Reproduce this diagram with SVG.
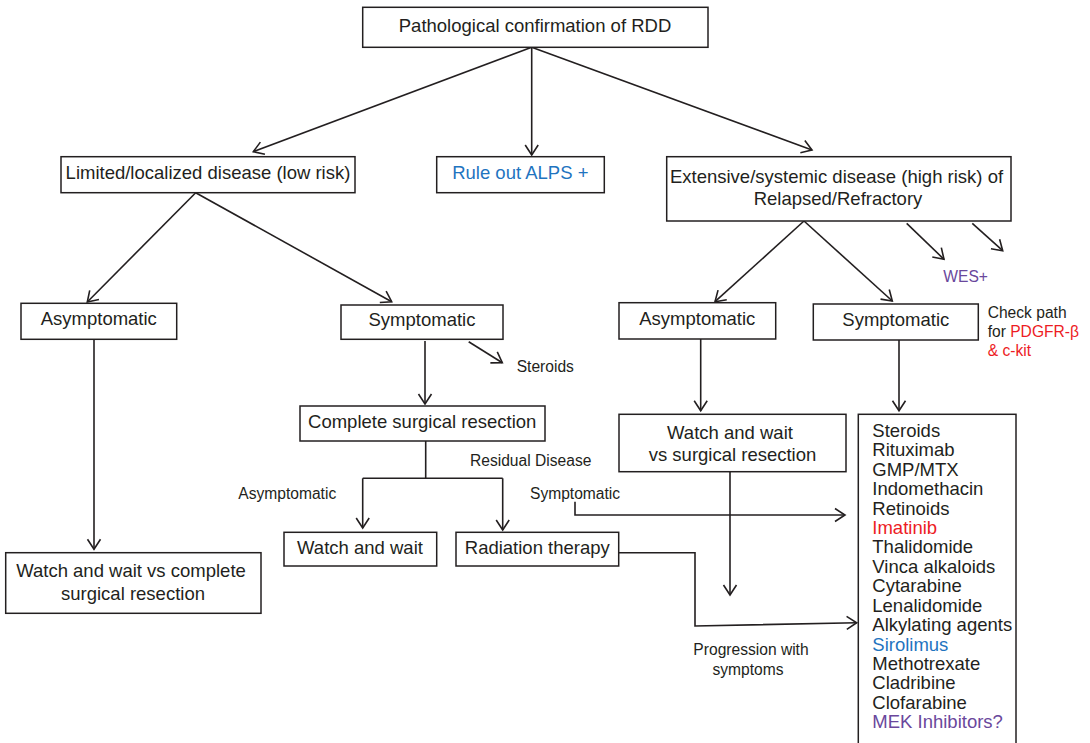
<svg xmlns="http://www.w3.org/2000/svg" width="1090" height="743" viewBox="0 0 1090 743">
<style>
.box{fill:#fff;stroke:#231f20;stroke-width:1.5}
.t{font-family:"Liberation Sans",Arial,sans-serif;font-size:18.5px;fill:#231f20}
.s{font-family:"Liberation Sans",Arial,sans-serif;font-size:15.6px;fill:#231f20}
.m{text-anchor:middle}
.blue{fill:#1f74bf}
.red{fill:#ed1c24}
.purple{fill:#6a479c}
.c{fill:none;stroke:#231f20;stroke-width:1.6}
.a{marker-end:url(#arr)}
</style>
<defs>
<marker id="arr" markerUnits="userSpaceOnUse" viewBox="-12 -8 14 16" refX="0" refY="0" markerWidth="14" markerHeight="16" orient="auto" overflow="visible">
<path d="M-10,-6.5 L0,0 L-10,6.5" fill="none" stroke="#231f20" stroke-width="1.6"/>
</marker>
</defs>
<rect width="1090" height="743" fill="#fff"/>
<g id="connectors">
<path class="c a" d="M531.7,47.3 L253.3,151.7"/>
<path class="c a" d="M531.7,47.3 L531.7,155"/>
<path class="c a" d="M531.7,47.3 L812,150"/>
<path class="c a" d="M195.7,192.7 L87.3,302"/>
<path class="c a" d="M195.7,192.7 L391.7,301.7"/>
<path class="c a" d="M804,221 L715,301.7"/>
<path class="c a" d="M804,221 L892.3,301"/>
<path class="c a" d="M906.7,223.3 L944,259.3"/>
<path class="c a" d="M972.3,223.3 L1002.7,250.7"/>
<path class="c a" d="M94,339.3 L94,549.3"/>
<path class="c a" d="M425,341 L425,404"/>
<path class="c a" d="M468.7,341.7 L502.3,362.7"/>
<path class="c" d="M425.7,441 L425.7,478.3 M362.7,478.3 L502.7,478.3"/>
<path class="c a" d="M362.7,478.3 L362.7,528"/>
<path class="c a" d="M502.7,478.3 L502.7,530"/>
<path class="c a" d="M575,501.7 L575,515 L845,515"/>
<path class="c a" d="M619,552.7 L695,552.7 L695,626 L856.7,622.7"/>
<path class="c a" d="M700.7,339 L700.7,410.7"/>
<path class="c a" d="M899,340 L899,410.7"/>
<path class="c a" d="M730,471.7 L730,595"/>
</g>
<g id="n-top"><rect class="box" x="362.7" y="7.3" width="345.3" height="40"/><text class="t m" x="535" y="32">Pathological confirmation of RDD</text></g>
<g id="n-limited"><rect class="box" x="61" y="156.7" width="294" height="36"/><text class="t m" x="208" y="179">Limited/localized disease (low risk)</text></g>
<g id="n-alps"><rect class="box" x="436.7" y="156.7" width="167.6" height="36"/><text class="t m blue" x="520.3" y="179.3">Rule out ALPS +</text></g>
<g id="n-extensive"><rect class="box" x="666.7" y="156.7" width="344.3" height="64.3"/><text class="t m" x="836.5" y="183.3">Extensive/systemic disease (high risk) of</text><text class="t m" x="838" y="205">Relapsed/Refractory</text></g>
<g id="n-wes"><text class="s purple" x="943.3" y="281.7">WES+</text></g>
<g id="n-check"><text class="s" x="987.7" y="317.7">Check path</text><text class="s" x="987.7" y="336.7">for <tspan class="red">PDGFR-β</tspan></text><text class="s red" x="987.7" y="355.7">&amp; c-kit</text></g>
<g id="n-asym-l"><rect class="box" x="21" y="303.3" width="155.7" height="36"/><text class="t m" x="98.8" y="325">Asymptomatic</text></g>
<g id="n-sym-l"><rect class="box" x="341" y="305" width="162" height="34.3"/><text class="t m" x="422" y="325.7">Symptomatic</text></g>
<g id="n-asym-r"><rect class="box" x="619" y="302.7" width="156.7" height="36.3"/><text class="t m" x="697.3" y="325">Asymptomatic</text></g>
<g id="n-sym-r"><rect class="box" x="813.3" y="304" width="165" height="36"/><text class="t m" x="895.8" y="326">Symptomatic</text></g>
<g id="n-steroids"><text class="s" x="516.7" y="371.7">Steroids</text></g>
<g id="n-complete"><rect class="box" x="300" y="406" width="245" height="35"/><text class="t m" x="422.2" y="427.7">Complete surgical resection</text></g>
<g id="n-residual"><text class="s" x="470" y="466">Residual Disease</text></g>
<g id="n-asym-lbl"><text class="s" x="238.3" y="499.3">Asymptomatic</text></g>
<g id="n-sym-lbl"><text class="s" x="530" y="499.3">Symptomatic</text></g>
<g id="n-watch-sr"><rect class="box" x="619" y="414.3" width="227" height="57.4"/><text class="t m" x="730" y="439.3">Watch and wait</text><text class="t m" x="732.5" y="460.7">vs surgical resection</text></g>
<g id="n-watch"><rect class="box" x="284" y="532.3" width="152.7" height="33.7"/><text class="t m" x="360" y="554">Watch and wait</text></g>
<g id="n-radiation"><rect class="box" x="456" y="532.3" width="162.7" height="33.7"/><text class="t m" x="537.3" y="554">Radiation therapy</text></g>
<g id="n-watch-cr"><rect class="box" x="5.7" y="552.7" width="255.3" height="60.6"/><text class="t m" x="131" y="577.3">Watch and wait vs complete</text><text class="t m" x="133" y="600">surgical resection</text></g>
<g id="n-progression"><text class="s m" x="751" y="655">Progression with</text><text class="s m" x="748" y="675">symptoms</text></g>
<g id="n-drugs"><rect class="box" x="858.3" y="414.3" width="157.7" height="340"/>
<text class="t" x="872.3" y="436.7">Steroids</text>
<text class="t" x="872.3" y="456.1">Rituximab</text>
<text class="t" x="872.3" y="475.6">GMP/MTX</text>
<text class="t" x="872.3" y="495">Indomethacin</text>
<text class="t" x="872.3" y="514.5">Retinoids</text>
<text class="t red" x="872.3" y="533.9">Imatinib</text>
<text class="t" x="872.3" y="553.3">Thalidomide</text>
<text class="t" x="872.3" y="572.8">Vinca alkaloids</text>
<text class="t" x="872.3" y="592.2">Cytarabine</text>
<text class="t" x="872.3" y="611.7">Lenalidomide</text>
<text class="t" x="872.3" y="631.1">Alkylating agents</text>
<text class="t blue" x="872.3" y="650.5">Sirolimus</text>
<text class="t" x="872.3" y="670">Methotrexate</text>
<text class="t" x="872.3" y="689.4">Cladribine</text>
<text class="t" x="872.3" y="708.9">Clofarabine</text>
<text class="t purple" x="872.3" y="728.3">MEK Inhibitors?</text>
</g>
</svg>
